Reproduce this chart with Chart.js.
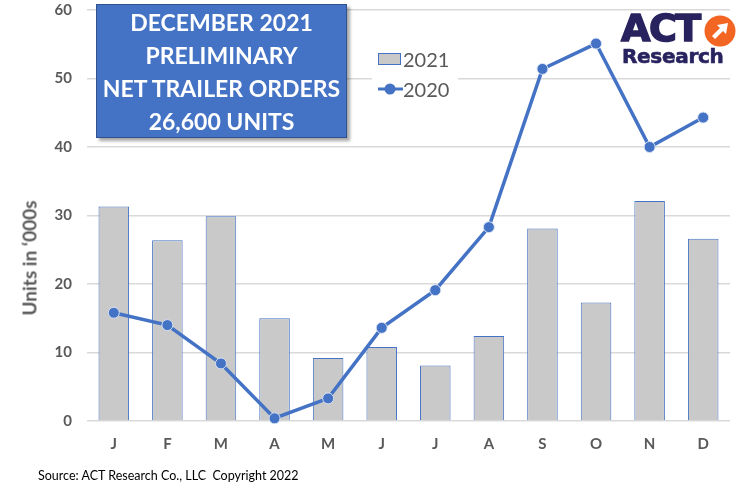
<!DOCTYPE html>
<html lang="en">
  <head>
    <meta charset="UTF-8" />
    <title>Net Trailer Orders</title>
    <script src="https://cdn.jsdelivr.net/npm/chart.js"></script>
    <style>
      body { margin: 0; background: #fff; }
      #wrap { position: relative; width: 737px; height: 499px; font-family: Lato, sans-serif; }
      #titleBox {
        position: absolute; left: 96px; top: 4px; width: 251px; height: 134px;
        background: #4472C4; border: 1px solid #2F528F; box-sizing: border-box;
        box-shadow: 3px 3px 3px rgba(0,0,0,0.35);
        color: #fff; font-weight: 700; font-size: 23px; line-height: 33px;
        text-align: center; padding-top: 1px; white-space: nowrap;
      }
      #yTitle {
        position: absolute; left: 29px; top: 258px; transform: translate(-50%, -50%) rotate(-90deg);
        white-space: nowrap; color: #595959; font-weight: 700; font-size: 19px;
      }
      #legend {
        position: absolute; left: 372px; top: 42px; width: 86px; height: 58px;
        background: #fff; color: #595959; font-size: 20px;
      }
      .leg { position: absolute; left: 6px; height: 24px; line-height: 24px; }
      .leg span { position: absolute; left: 25px; }
      #logo { position: absolute; left: 618px; top: 6px; width: 119px; height: 64px; }
      #act { position: absolute; left: 3px; top: 0px; font-family: "DejaVu Sans"; font-weight: 700;
        font-size: 38px; color: #28235E; letter-spacing: -1.5px; -webkit-text-stroke: 1.5px #28235E; }
      #research { position: absolute; left: 4px; top: 38px; font-family: "DejaVu Sans"; font-weight: 700;
        font-size: 20px; color: #28235E; letter-spacing: -0.3px; -webkit-text-stroke: 0.6px #28235E; }
      #source { position: absolute; left: 38px; top: 468px; font-size: 12.5px; color: #000; }
    </style>
  </head>
  <body>
    <div id="wrap">
      <canvas id="chart" width="737" height="499"></canvas>
      <div id="yTitle">Units in ‘000s</div>
      <div id="titleBox">DECEMBER 2021<br />PRELIMINARY<br />NET TRAILER ORDERS<br />26,600 UNITS</div>
      <div id="legend">
        <div class="leg" style="top: 5px;">
          <svg width="24" height="24"><rect x="0.5" y="6.5" width="22" height="11" fill="#C9C9C9" stroke="#4472C4" /></svg>
          <span>2021</span>
        </div>
        <div class="leg" style="top: 35px;">
          <svg width="26" height="24"><line x1="0" y1="12" x2="25" y2="12" stroke="#4472C4" stroke-width="3" /><circle cx="12" cy="12" r="5.5" fill="#4472C4" /></svg>
          <span>2020</span>
        </div>
      </div>
      <div id="logo">
        <div id="act">ACT</div>
        <svg style="position:absolute; left:86px; top:9px;" width="32" height="32" viewBox="0 0 32 32">
          <circle cx="16" cy="16" r="15.5" fill="#F26522" />
          <path d="M8 21 L16 13 L13 10 L24 8 L22 19 L19 16 L11 24 Z" fill="#fff" />
        </svg>
        <div id="research">Research</div>
      </div>
      <div id="source">Source: ACT Research Co., LLC&nbsp; Copyright 2022</div>
    </div>

    <script>
      const months = ['J', 'F', 'M', 'A', 'M', 'J', 'J', 'A', 'S', 'O', 'N', 'D'];
      const orders2021 = [31.3, 26.4, 29.9, 15.0, 9.2, 10.8, 8.1, 12.4, 28.1, 17.3, 32.1, 26.6];
      const orders2020 = [15.8, 14.0, 8.4, 0.4, 3.3, 13.6, 19.1, 28.3, 51.4, 55.1, 40.0, 44.3];
      const yTicks = [0, 10, 20, 30, 40, 50, 60];

      const tickFont = { family: 'Lato', size: 15, weight: 'bold' };

      new Chart(document.getElementById('chart'), {
        data: {
          labels: months,
          datasets: [
            {
              type: 'line',
              label: '2020',
              data: orders2020,
              borderColor: '#4472C4',
              backgroundColor: '#4472C4',
              borderWidth: 3.5,
              pointRadius: 5.5,
              pointBorderColor: '#D9E2F3',
              pointBorderWidth: 1,
              tension: 0,
              clip: false,
              order: 1
            },
            {
              type: 'bar',
              label: '2021',
              data: orders2021,
              backgroundColor: '#C9C9C9',
              borderColor: '#4472C4',
              borderWidth: 1,
              categoryPercentage: 1,
              barPercentage: 0.57,
              order: 2
            }
          ]
        },
        options: {
          responsive: false,
          animation: false,
          layout: { padding: { top: 10, right: 7, left: 0, bottom: 0 } },
          plugins: { legend: { display: false }, tooltip: { enabled: false } },
          scales: {
            x: {
              grid: { display: false, drawTicks: false },
              border: { display: false },
              ticks: { color: '#595959', font: tickFont, padding: 14 },
              afterFit: (scale) => { scale.height = 78; }
            },
            y: {
              min: 0,
              max: 60,
              afterBuildTicks: (scale) => { scale.ticks = yTicks.map(v => ({ value: v })); },
              grid: { color: '#D9D9D9', lineWidth: 1.5, drawTicks: false },
              border: { display: false },
              ticks: { color: '#595959', font: tickFont, padding: 15 },
              afterFit: (scale) => {
                scale.width = 87;
                scale.paddingTop = 0;
                scale.paddingBottom = 0;
              }
            }
          }
        }
      });
    </script>
  </body>
</html>
